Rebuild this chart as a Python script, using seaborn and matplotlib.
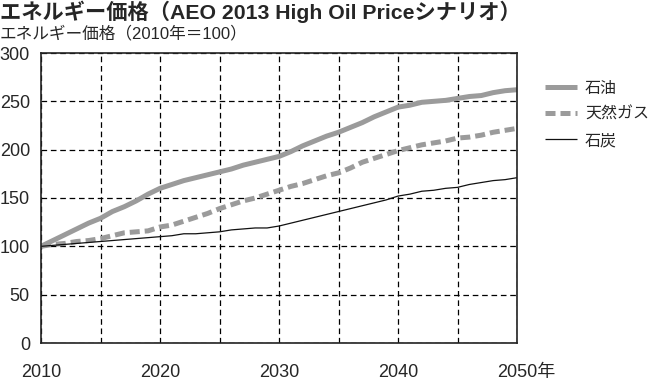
import matplotlib
matplotlib.use("Agg")
import matplotlib.pyplot as plt
import matplotlib.transforms as mtransforms
import seaborn as sns
import pandas as pd
from matplotlib.lines import Line2D

# data (index, 2010 = 100)
years = list(range(2010, 2051))
oil = [100, 106, 112, 118, 124, 129, 136, 141, 147, 154,
       160, 164, 168, 171, 174, 177, 180, 184, 187, 190,
       193, 198, 204, 209, 214, 218, 223, 228, 234, 239,
       244, 246, 249, 250, 251, 253, 255, 256, 259, 261, 262]
gas = [100, 102, 103, 105, 106, 108, 111, 114, 115, 116,
       120, 122, 126, 130, 134, 139, 143, 147, 150, 154,
       158, 162, 165, 169, 173, 176, 181, 187, 191, 195,
       199, 202, 205, 207, 209, 212, 213, 215, 218, 220, 222]
coal = [100, 101, 102, 103, 104, 105, 106, 107, 108, 109,
        110, 111, 113, 113, 114, 115, 117, 118, 119, 119,
        121, 124, 127, 130, 133, 136, 139, 142, 145, 148,
        152, 154, 157, 158, 160, 161, 164, 166, 168, 169, 171]
labels = ["石油", "天然ガス", "石炭"]
xticks = [2010, 2020, 2030, 2040, 2050]
xticklabels = ["2010", "2020", "2030", "2040", "2050年"]
yticks = [0, 50, 100, 150, 200, 250, 300]

sns.set_style("white")
plt.rcParams["font.family"] = ["Liberation Sans", "Noto Sans CJK JP", "DejaVu Sans"]

df = pd.DataFrame({"year": years, labels[0]: oil, labels[1]: gas, labels[2]: coal})

fig = plt.figure(figsize=(6.57, 3.83), dpi=100)
ax = fig.add_axes([41 / 657, 40 / 383, 476 / 657, 290 / 383])

grey = "#9b9b9b"
styles = {
    labels[0]: dict(color=grey, lw=3.6, ls="-"),
    labels[1]: dict(color=grey, lw=3.6, ls=(0, (2.0, 1.0))),
    labels[2]: dict(color="#111111", lw=0.9, ls="-"),
}
for name in labels:
    st = styles[name]
    sns.lineplot(data=df, x="year", y=name, ax=ax, color=st["color"],
                 linewidth=st["lw"], linestyle=st["ls"], solid_capstyle="butt",
                 dash_capstyle="butt")

ax.set_xlim(2010, 2050)
ax.set_ylim(0, 300)
ax.set_xticks(xticks)
ax.set_xticks(range(2015, 2050, 10), minor=True)
ax.set_yticks(yticks)
ax.set_xticklabels(xticklabels)
ax.set_xlabel("")
ax.set_ylabel("")
ax.tick_params(axis="x", which="both", length=0, pad=15, labelsize=13)
ax.tick_params(axis="y", length=0, pad=8, labelsize=13)
ax.grid(True, which="both", color="black", lw=0.9, ls=(0, (4.5, 3)))
for sp in ax.spines.values():
    sp.set_color("#222222")
    sp.set_linewidth(1.2)
    sp.set_visible(True)

# keep "2050" centred on its tick, with the unit hanging to the right
last = ax.get_xticklabels()[-1]
last.set_transform(last.get_transform() +
                   mtransforms.ScaledTranslation(0.09, 0, fig.dpi_scale_trans))

handles = [Line2D([], [], color=styles[n]["color"], lw=styles[n]["lw"],
                  ls=styles[n]["ls"], solid_capstyle="butt", dash_capstyle="butt")
           for n in labels]
ax.legend(handles, labels, loc="upper left", bbox_to_anchor=(1.059, 0.905),
          frameon=False, fontsize=11.5, handlelength=2.0, labelspacing=0.7,
          handletextpad=0.5, borderpad=0, borderaxespad=0)

fig.text(0.0, 1 - 12 / 383, "エネルギー価格（AEO 2013 High Oil Priceシナリオ）",
         fontsize=15.3, fontweight="bold", ha="left", va="center")
fig.text(0.0, 1 - 33 / 383, "エネルギー価格（2010年＝100）",
         fontsize=12, ha="left", va="center")

fig.savefig("out.png", dpi=100)
